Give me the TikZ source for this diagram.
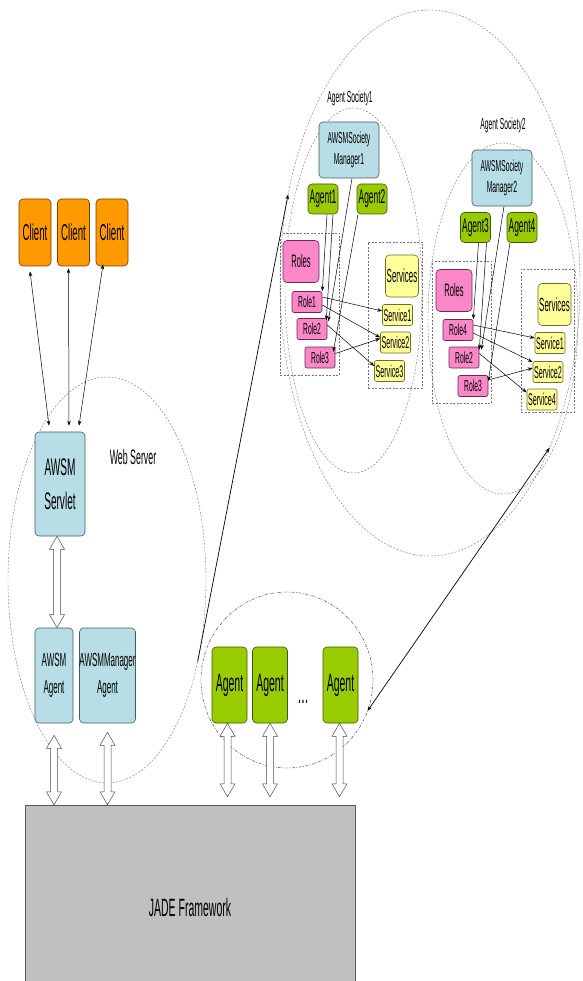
\documentclass[tikz,border=0pt]{standalone}
\usepackage{fontspec}
\setmainfont{Liberation Sans}[FakeStretch=0.42]
\usetikzlibrary{shapes.geometric}
\usetikzlibrary{arrows.meta}
\usetikzlibrary{calc}

\definecolor{clientorange}{RGB}{255,153,0}
\definecolor{clientedge}{RGB}{120,60,0}
\definecolor{awsmblue}{RGB}{183,221,230}
\definecolor{awsmedge}{RGB}{70,90,95}
\definecolor{agentgreen}{RGB}{153,204,0}
\definecolor{agentedge}{RGB}{60,90,0}
\definecolor{rolepink}{RGB}{250,135,200}
\definecolor{roleedge}{RGB}{110,40,80}
\definecolor{svcyellow}{RGB}{255,255,153}
\definecolor{svcedge}{RGB}{110,110,40}
\definecolor{zonegray}{RGB}{115,115,115}
\definecolor{jadegray}{RGB}{192,192,192}

\begin{document}
\begin{tikzpicture} [
    x=1pt, y=-1pt,
    box/.style      = { rectangle, rounded corners=4pt, inner sep=0pt, align=center, line width=0.6pt },
    client/.style   = { box, draw=clientedge, fill=clientorange, minimum width=32pt,
                        minimum height=67pt, font=\fontsize{23}{30}\selectfont },
    awsm/.style     = { box, draw=awsmedge, fill=awsmblue, font=\fontsize{19}{27}\selectfont },
    agent/.style    = { box, draw=agentedge, fill=agentgreen, minimum width=35pt,
                        minimum height=76pt, font=\fontsize{25}{30}\selectfont },
    sagent/.style   = { box, draw=agentedge, fill=agentgreen, minimum width=30pt,
                        minimum height=30pt, font=\fontsize{20}{22}\selectfont },
    manager/.style  = { box, draw=awsmedge, fill=awsmblue, minimum width=60pt,
                        minimum height=56pt, font=\fontsize{16}{21}\selectfont },
    roles/.style    = { box, draw=roleedge, fill=rolepink, minimum width=36pt,
                        minimum height=42pt, font=\fontsize{18}{22}\selectfont },
    role/.style     = { box, rounded corners=2pt, draw=roleedge, fill=rolepink, minimum width=30pt,
                        minimum height=21pt, font=\fontsize{16}{20}\selectfont },
    services/.style = { box, draw=svcedge, fill=svcyellow, minimum width=33pt,
                        minimum height=42pt, font=\fontsize{19}{22}\selectfont },
    service/.style  = { box, rounded corners=2pt, draw=svcedge, fill=svcyellow, minimum width=30pt,
                        minimum height=21pt, font=\fontsize{17}{20}\selectfont },
    zone/.style     = { ellipse, draw=zonegray, dash pattern=on 2pt off 1.5pt,
                        inner sep=0pt, outer sep=0pt },
    region/.style   = { rectangle, draw=zonegray, dash pattern=on 2pt off 1.5pt,
                        inner sep=0pt, outer sep=0pt },
    caption/.style  = { inner sep=0pt },
    line/.style     = { draw, line width=0.5pt, -{Stealth[length=5pt,width=3.5pt]} },
    both/.style     = { draw, line width=0.5pt, {Stealth[length=5pt,width=3.5pt]}-{Stealth[length=5pt,width=3.5pt]} },
    hollow/.style   = { draw=gray!60!black, fill=white, line width=0.5pt,
                        to path={ let \p1=(\tikztostart), \p2=(\tikztotarget) in
                          (\x1,\y1) -- (\x1+7.5pt,\y1-13pt) -- (\x1+3.5pt,\y1-13pt)
                          -- (\x1+3.5pt,\y2+13pt) -- (\x1+7.5pt,\y2+13pt) -- (\x1,\y2)
                          -- (\x1-7.5pt,\y2+13pt) -- (\x1-3.5pt,\y2+13pt)
                          -- (\x1-3.5pt,\y1-13pt) -- (\x1-7.5pt,\y1-13pt) -- cycle } },
  ]

\useasboundingbox (0,0) rectangle (582,981);

% zones
\node [zone, minimum width=300pt, minimum height=546pt] (world) at (430,283) {};
\node [zone, minimum width=137pt, minimum height=365pt] (soc1)  at (353.5,290.5) {};
\node [zone, minimum width=150pt, minimum height=351pt] (soc2)  at (503,318.5) {};
\node [zone, minimum width=198pt, minimum height=406pt] (web)   at (107,580) {};
\node [zone, dash pattern=on 3pt off 1.5pt on 0.8pt off 1.5pt, draw=black!80,
       minimum width=172pt, minimum height=176pt] (pool) at (287,680) {};

\node [region, minimum width=59pt, minimum height=142pt] (rolezone1) at (309.5,304) {};
\node [region, minimum width=54pt, minimum height=146pt] (svczone1)  at (395,315) {};
\node [region, minimum width=59pt, minimum height=142pt] (rolezone2) at (461.5,332) {};
\node [region, minimum width=53pt, minimum height=143pt] (svczone2)  at (547.5,340.5) {};

% left side
\node [client] (cl1) at (35,232.5)  {Client};
\node [client] (cl2) at (73.5,232.5) {Client};
\node [client] (cl3) at (112,232.5) {Client};

\node [awsm, font=\fontsize{24}{34}\selectfont, minimum width=50pt, minimum height=104pt]
      (srv) at (60,484) {AWSM\\Servlet};
\node [caption, font=\fontsize{21}{26}\selectfont] (webtxt) at (133,457) {Web Server};
\node [awsm, minimum width=38pt, minimum height=95pt] (awa) at (54,675.5)  {AWSM\\Agent};
\node [awsm, minimum width=55pt, minimum height=95pt] (mga) at (107.5,675.5) {AWSMManager\\Agent};

\node [agent] (ag1) at (229.5,685) {Agent};
\node [agent] (ag2) at (270,685)   {Agent};
\node [agent] (ag3) at (340.5,685) {Agent};
\node [caption, font=\fontsize{30}{32}\selectfont] (dots) at (303,702) {...};

\node [rectangle, draw=gray!70!black, fill=jadegray, minimum width=330pt, minimum height=206pt,
       inner sep=0pt, font=\fontsize{25}{28}\selectfont] (jade) at (190,908) {JADE Framework};

% agent society 1
\node [caption, font=\fontsize{16}{18}\selectfont] (soc1txt) at (350,98) {Agent Society1};
\node [manager]  (mgr1)  at (349,150)     {AWSMSociety\\Manager1};
\node [sagent]   (a1)    at (323,199)     {Agent1};
\node [sagent]   (a2)    at (372,199)     {Agent2};
\node [roles]    (rls1)  at (301,261.5)   {Roles};
\node [role]     (r11)   at (307,302)     {Role1};
\node [role]     (r12)   at (312,329)     {Role2};
\node [role]     (r13)   at (320,357.5)   {Role3};
\node [services] (svs1)  at (402,276)     {Services};
\node [service]  (s11)   at (397.5,315)   {Service1};
\node [service]  (s12)   at (395.5,342.5) {Service2};
\node [service]  (s13)   at (389.5,371)   {Service3};

% agent society 2
\node [caption, font=\fontsize{16}{18}\selectfont] (soc2txt) at (503,125) {Agent Society2};
\node [manager]  (mgr2)  at (502,178)     {AWSMSociety\\Manager2};
\node [sagent]   (a3)    at (475.5,227.5) {Agent3};
\node [sagent]   (a4)    at (522,227.5)   {Agent4};
\node [roles]    (rls2)  at (454,290.5)   {Roles};
\node [role]     (r24)   at (458,330)     {Role4};
\node [role]     (r22)   at (464,357.5)   {Role2};
\node [role]     (r23)   at (473,386)     {Role3};
\node [services] (svs2)  at (554.5,304.5) {Services};
\node [service]  (s21)   at (550,343)     {Service1};
\node [service]  (s22)   at (548,372)     {Service2};
\node [service]  (s24)   at (542,399.5)   {Service4};

\begin{scope} [every path/.style=line]
    \path [both] ([xshift=-11pt,yshift=6pt]srv.north) -- ([xshift=-5pt,yshift=-5pt]cl1.south);
    \path [both] ([xshift=9pt,yshift=6pt]srv.north)   -- ([xshift=-5pt,yshift=-2pt]cl2.south);
    \path [both] ([xshift=19pt,yshift=6pt]srv.north)  -- ([xshift=-9pt,yshift=2pt]cl3.south);

    \path [line width=0.7pt] (web.-42) -- (world.148);
    \path [both, line width=0.7pt] (pool.-21) -- (world.-54);

    \path ([xshift=4pt]a1.south)    -- (r11.north east);
    \path ([xshift=10pt]a1.south)   -- ([xshift=-1pt,yshift=-2pt]r12.north east);
    \path ([xshift=3pt]mgr1.south)  -- ([xshift=1pt,yshift=-3pt]r12.north east);
    \path ([xshift=-14pt]a2.south)  -- ([xshift=-2pt,yshift=-5pt]r13.north east);
    \path ([yshift=5pt]r11.east)    -- ([yshift=4pt]s11.west);
    \path ([yshift=-3pt]r11.east)   -- ([yshift=5pt]s12.west);
    \path ([yshift=4pt]r12.east)    -- ([yshift=5pt]s13.west);
    \path ([yshift=4pt]r13.east)    -- ([yshift=4pt]s12.west);

    \path ([xshift=3pt]a3.south)    -- (r24.north east);
    \path ([xshift=11pt]a3.south)   -- ([yshift=-3pt]r22.north east);
    \path ([xshift=2pt]mgr2.south)  -- ([xshift=2pt,yshift=-3pt]r22.north east);
    \path ([xshift=-12pt]a4.south)  -- ([yshift=5pt]r23.east);
    \path ([yshift=5pt]r24.east)    -- ([yshift=5pt]s21.west);
    \path ([yshift=-3pt]r24.east)   -- ([yshift=10pt]s22.west);
    \path ([yshift=4pt]r22.east)    -- ([yshift=7pt]s24.west);
    \path ([yshift=6pt]r23.east)    -- ([yshift=4pt]s22.west);
\end{scope}

\path [hollow] ([xshift=-3pt]srv.south) to ([xshift=-3pt]srv.south |- awa.north);
\path [hollow] ([yshift=-12pt]awa.south) to (awa.south |- jade.north);
\path [hollow] ([yshift=-9pt]mga.south)  to (mga.south |- jade.north);
\path [hollow] ([xshift=-2pt]ag1.south) to ([xshift=-2pt,yshift=8pt]ag1.south |- jade.north);
\path [hollow] (ag2.south) to ([yshift=8pt]ag2.south |- jade.north);
\path [hollow] ([xshift=-1pt]ag3.south) to ([xshift=-1pt,yshift=8pt]ag3.south |- jade.north);

\end{tikzpicture}
\end{document}
